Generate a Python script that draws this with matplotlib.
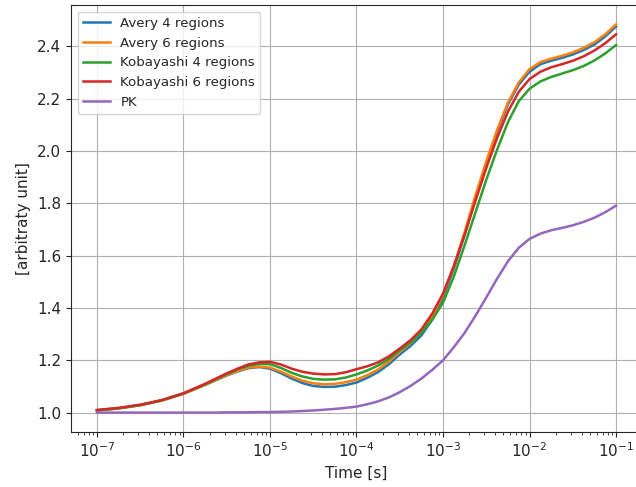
import numpy as np
import matplotlib
matplotlib.use("Agg")
import matplotlib.pyplot as plt

# log10(time) sample positions
log_t = [-7.0, -6.75, -6.5, -6.25, -6.0, -5.875, -5.75, -5.625, -5.5, -5.375,
         -5.25, -5.125, -5.0, -4.875, -4.75, -4.625, -4.5, -4.375, -4.25,
         -4.125, -4.0, -3.875, -3.75, -3.625, -3.5, -3.375, -3.25, -3.125,
         -3.0, -2.875, -2.75, -2.625, -2.5, -2.375, -2.25, -2.125, -2.0,
         -1.875, -1.75, -1.625, -1.5, -1.375, -1.25, -1.125, -1.0]

avery4 = [1.008, 1.016, 1.028, 1.046, 1.072, 1.089, 1.106, 1.124, 1.142, 1.157,
          1.170, 1.174, 1.168, 1.151, 1.130, 1.113, 1.102, 1.098, 1.099,
          1.105, 1.115, 1.133, 1.155, 1.185, 1.222, 1.255, 1.295, 1.355,
          1.440, 1.550, 1.680, 1.820, 1.952, 2.072, 2.178, 2.254, 2.303,
          2.332, 2.345, 2.356, 2.369, 2.386, 2.407, 2.438, 2.476]
avery6 = [1.008, 1.016, 1.028, 1.046, 1.072, 1.089, 1.106, 1.125, 1.143, 1.159,
          1.172, 1.176, 1.172, 1.157, 1.138, 1.122, 1.112, 1.108, 1.110,
          1.116, 1.126, 1.143, 1.165, 1.195, 1.232, 1.265, 1.308, 1.368,
          1.450, 1.560, 1.690, 1.830, 1.960, 2.080, 2.185, 2.262, 2.313,
          2.340, 2.353, 2.364, 2.377, 2.394, 2.416, 2.446, 2.484]
koba4 = [1.009, 1.017, 1.029, 1.047, 1.073, 1.090, 1.108, 1.128, 1.147, 1.165,
         1.179, 1.186, 1.185, 1.171, 1.152, 1.138, 1.129, 1.126, 1.127,
         1.134, 1.146, 1.161, 1.180, 1.205, 1.238, 1.268, 1.305, 1.355,
         1.420, 1.520, 1.640, 1.765, 1.890, 2.005, 2.110, 2.190, 2.238,
         2.266, 2.283, 2.296, 2.309, 2.325, 2.346, 2.373, 2.405]
koba6 = [1.010, 1.018, 1.030, 1.048, 1.074, 1.092, 1.110, 1.130, 1.150, 1.168,
         1.184, 1.192, 1.194, 1.184, 1.168, 1.156, 1.149, 1.146, 1.147,
         1.154, 1.166, 1.177, 1.192, 1.215, 1.245, 1.277, 1.318, 1.378,
         1.455, 1.560, 1.680, 1.810, 1.935, 2.050, 2.150, 2.226, 2.275,
         2.303, 2.320, 2.332, 2.345, 2.362, 2.384, 2.412, 2.446]
pk = [1.000, 1.000, 1.000, 1.000, 1.000, 1.000, 1.000, 1.000, 1.001, 1.001,
      1.001, 1.002, 1.002, 1.003, 1.004, 1.006, 1.008, 1.011, 1.014,
      1.018, 1.023, 1.032, 1.043, 1.058, 1.078, 1.102, 1.130, 1.163,
      1.200, 1.250, 1.305, 1.370, 1.440, 1.512, 1.578, 1.630, 1.664,
      1.684, 1.697, 1.706, 1.716, 1.729, 1.745, 1.766, 1.791]

labels = ["Avery 4 regions", "Avery 6 regions", "Kobayashi 4 regions",
          "Kobayashi 6 regions", "PK"]
colors = ["#1f77b4", "#ff7f0e", "#2ca02c", "#d62728", "#9467bd"]

dark = "#262626"
plt.rcParams.update({
    "font.family": ["DejaVu Sans"],
    "text.color": dark,
    "axes.labelcolor": dark,
    "xtick.color": dark,
    "ytick.color": dark,
    "axes.edgecolor": dark,
})

t = 10.0 ** np.array(log_t)
fig = plt.figure(figsize=(6.36, 4.87), dpi=100)
ax = fig.add_axes([71 / 636, 55 / 487, 571 / 636, 427 / 487])

for ys, lab, c in zip([avery4, avery6, koba4, koba6, pk], labels, colors):
    ax.plot(t, ys, color=c, lw=1.8, label=lab)

ax.set_xscale("log")
ax.set_xticks([1e-7, 1e-6, 1e-5, 1e-4, 1e-3, 1e-2, 1e-1])
ax.set_yticks([1.0, 1.2, 1.4, 1.6, 1.8, 2.0, 2.2, 2.4])
ax.grid(True, which="major", color="#b0b0b0", lw=0.8)
ax.set_xlabel("Time [s]", fontsize=11)
ax.set_ylabel("[arbitraty unit]", fontsize=11)
ax.tick_params(labelsize=11)
ax.legend(loc="upper left", fontsize=9.6)

fig.savefig("out.png", dpi=100)
